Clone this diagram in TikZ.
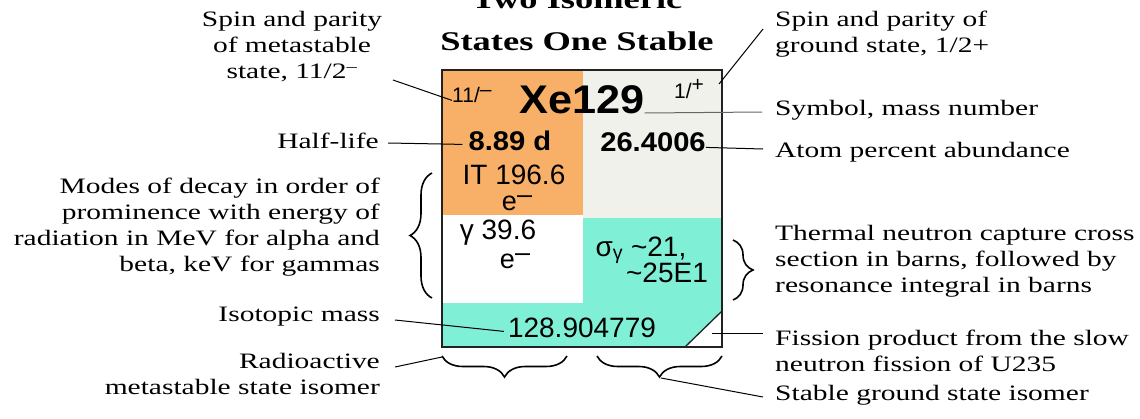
\documentclass[tikz,border=0pt]{standalone}
\usepackage{fontspec}
\setmainfont{Liberation Serif}
\newfontfamily\labfont[FakeStretch=1.34]{Liberation Serif}
\newfontfamily\titfont[FakeStretch=1.35]{Liberation Serif}
\newfontfamily\boxfont{Liberation Sans}
\newfontfamily\boxbfont[FakeStretch=1.08]{Liberation Sans}
\usetikzlibrary{decorations.pathreplacing}
\definecolor{orng}{HTML}{F8B068}
\definecolor{gry}{HTML}{F1F1EC}
\definecolor{cyn}{HTML}{7FF0D6}
\definecolor{edge}{HTML}{222222}
\tikzset{
  lab/.style={font=\labfont\fontsize{22}{26}\selectfont, inner sep=0pt},
  ttl/.style={font=\titfont\bfseries\fontsize{27}{30}\selectfont, inner sep=0pt, anchor=base},
  bxt/.style={inner sep=0pt, anchor=base, text height=0.72em, text depth=0pt},
  bxr/.style={bxt, font=\boxfont\fontsize{28}{30}\selectfont},
  bxb/.style={bxt, font=\boxbfont\bfseries\fontsize{27}{30}\selectfont},
  bxs/.style={bxt, font=\boxfont\fontsize{21}{24}\selectfont},
  conn/.style={draw=black, line width=1pt},
  brc/.style={draw=black, line width=1.6pt, decorate},
}
\newcommand{\supdash}{\raisebox{0.25em}{–}}
\begin{document}
\begin{tikzpicture}[x=1pt,y=-1pt]
\useasboundingbox (0,0) rectangle (1140,418);
\fill[white] (0,0) rectangle (1140,418);
% box regions
\fill[orng] (442,70) rectangle (583,215);
\fill[gry] (583,70) rectangle (722,218);
\fill[white] (442,215) rectangle (583,303);
\fill[cyn] (583,218) -- (722,218) -- (722,311) -- (685,347) -- (442,347) -- (442,303) -- (583,303) -- cycle;
\draw[edge, line width=1.3pt] (722,311) -- (685,347);
\draw[edge, line width=2.6pt] (442,70) rectangle (722,347);
% title
\node[ttl] (t1) at (577,8) {Two Isomeric};
\node[ttl] (t2) at (577,50) {States One Stable};
% box texts
\node[bxs, anchor=base west] (sp11) at (452,102) {11/\supdash};
\node[bxt, font=\boxbfont\bfseries\fontsize{40}{42}\selectfont] (xe) at (582,113) {Xe129};
\node[bxs] (sp1) at (689,98) {1/\raisebox{0.3em}{+}};
\node[bxb] (hlv) at (510,150) {8.89 d};
\node[bxb] (abv) at (653,151) {26.4006};
\node[bxr] (it) at (514,184) {IT 196.6};
\node[bxr, text height=0.5em, font=\boxfont\fontsize{27}{30}\selectfont] (e1) at (517,210) {e\supdash};
\node[bxr] (gam) at (498,239) {γ 39.6};
\node[bxr, text height=0.5em, font=\boxfont\fontsize{27}{30}\selectfont] (e2) at (515,268) {e\supdash};
\node[bxr, text depth=0pt] (sig) at (641,256) {σ\textsubscript{γ} \textasciitilde 21,};
\node[bxr, text height=0.6em] (res) at (667,282) {\textasciitilde 25E1};
\node[bxr] (mass) at (582,337) {128.904779};
% left labels
\node[lab, align=center] (ms) at (292,47) {Spin and parity\\of metastable\\state, 11/2\textsuperscript{–}};
\node[lab, anchor=east] (hl) at (379,141) {Half-life};
\node[lab, anchor=east, align=right] (modes) at (380,227) {Modes of decay in order of\\prominence with energy of\\radiation in MeV for alpha and\\beta, keV for gammas};
\node[lab, anchor=east] (iso) at (380,317) {Isotopic mass};
\node[lab, anchor=east, align=right] (radio) at (380,374) {Radioactive\\metastable state isomer};
% right labels
\node[lab, anchor=west, align=left] (gsp) at (775,34) {Spin and parity of\\ground state, 1/2+};
\node[lab, anchor=west] (sym) at (775,110) {Symbol, mass number};
\node[lab, anchor=west] (atom) at (775,152) {Atom percent abundance};
\node[lab, anchor=west, align=left] (therm) at (775,261) {Thermal neutron capture cross\\section in barns, followed by\\resonance integral in barns};
\node[lab, anchor=west, align=left] (fiss) at (775,351) {Fission product from the slow\\neutron fission of U235};
\node[lab, anchor=west] (stab) at (775,395) {Stable ground state isomer};
% braces
\draw[brc, decoration={brace, amplitude=22pt}] (432,298) -- (432,173);
\draw[brc, decoration={brace, amplitude=20pt}] (733,240) -- (733,300);
\draw[brc, decoration={brace, amplitude=21pt}] (567,356) -- (442,356);
\draw[brc, decoration={brace, amplitude=21pt}] (722,356) -- (597,356);
% coordinates for free ends
\coordinate (msend) at (393,80);
\coordinate (gspst) at (719,84);
\coordinate (gspend) at (763,29);
\coordinate (symend) at (762,112);
\coordinate (hlend) at (388,143);
\coordinate (atomend) at (763,149);
\coordinate (isoend) at (395,320);
\coordinate (radend) at (395,367);
\coordinate (lbrc) at (442,357);
\coordinate (fisst) at (712,333);
\coordinate (fissend) at (763,333);
\coordinate (rbtip) at (661,378);
\coordinate (stabend) at (763,397);
% connectors
\draw[conn] (msend) -- ([yshift=-2pt]sp11.west);
\draw[conn] (gspst) -- (gspend);
\draw[conn, draw=black!60] (xe.base east) -- (symend);
\draw[conn] (hlend) -- ([xshift=-6pt,yshift=2pt]hlv.west);
\draw[conn] (abv.east) -- (atomend);
\draw[conn] (isoend) -- ([xshift=-4pt,yshift=2pt]mass.west);
\draw[conn] (radend) -- (lbrc);
\draw[conn] (fisst) -- (fissend);
\draw[conn] (rbtip) -- (stabend);
\end{tikzpicture}
\end{document}
